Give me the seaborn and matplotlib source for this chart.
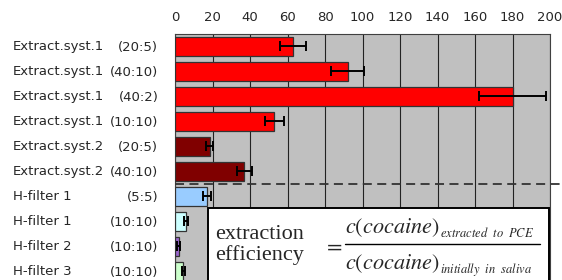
import numpy as np
import pandas as pd
import matplotlib
matplotlib.use("Agg")
import matplotlib.pyplot as plt
import matplotlib.transforms as mtransforms
from matplotlib.patches import Rectangle
from matplotlib.lines import Line2D
import seaborn as sns

# data
systems = ["Extract.syst.1", "Extract.syst.1", "Extract.syst.1", "Extract.syst.1",
           "Extract.syst.2", "Extract.syst.2",
           "H-filter 1", "H-filter 1", "H-filter 2", "H-filter 3"]
ratios = ["(20:5)", "(40:10)", "(40:2)", "(10:10)", "(20:5)", "(40:10)",
          "(5:5)", "(10:10)", "(10:10)", "(10:10)"]
efficiency = [63, 92, 180, 53, 18.5, 37, 17, 6, 2, 4.5]
errors = [7, 9, 18, 5, 2, 4, 2, 1, 0.7, 1]
colors = ["#FF0000", "#FF0000", "#FF0000", "#FF0000", "#800000", "#800000",
          "#99CCFF", "#CCFFFF", "#9966CC", "#CCFFCC"]

keys = [f"{s} {r}" for s, r in zip(systems, ratios)]
df = pd.DataFrame({"key": keys, "efficiency": efficiency})

sns.set_style("white")
plt.rcParams["font.family"] = ["DejaVu Sans"]
plt.rcParams["mathtext.fontset"] = "stix"

fig = plt.figure(figsize=(5.62, 2.8), dpi=100)
ax = fig.add_axes([175 / 562, 1 - 284 / 280, 375 / 562, 250 / 280])
ax.set_facecolor("#C0C0C0")

sns.barplot(data=df, x="efficiency", y="key", hue="key", palette=colors,
            saturation=1, legend=False, width=0.76, edgecolor="#333333",
            linewidth=0.9, ax=ax, zorder=3)
ax.errorbar(efficiency, np.arange(len(keys)), xerr=errors, fmt="none",
            ecolor="black", elinewidth=1.4, capsize=3.5, capthick=1.4, zorder=4)

ax.set_xlim(0, 200)
ax.set_ylim(len(keys) - 0.5, -0.5)
ax.set_xticks(np.arange(0, 201, 20))
ax.xaxis.tick_top()
ax.tick_params(axis="x", length=0, pad=7, labelsize=9.5)
ax.grid(axis="x", color="#222222", linewidth=0.8, zorder=0)
ax.set_axisbelow(True)
ax.set_xlabel("")
ax.set_ylabel("")

# boundary ticks (major), labels at centres (minor)
ax.set_yticks(np.arange(-0.5, len(keys), 1))
ax.set_yticklabels([])
ax.tick_params(axis="y", which="major", length=4, width=0.8, color="#404040")
ax.set_yticks(np.arange(len(keys)), minor=True)
ax.set_yticklabels(ratios, minor=True)
ax.tick_params(axis="y", which="minor", length=0, pad=12, labelsize=9.5)

trans = mtransforms.blended_transform_factory(fig.transFigure, ax.transData)
for i, s in enumerate(systems):
    ax.text(13 / 562, i, s, transform=trans, ha="left", va="center", fontsize=9.5)

for sp in ax.spines.values():
    sp.set_color("#404040")
    sp.set_linewidth(0.8)

# dashed separator between extraction systems and H-filters
sep = mtransforms.blended_transform_factory(ax.transAxes, ax.transData)
ax.plot([0, 1.05], [5.5, 5.5], transform=sep, color="#333333",
        linestyle=(0, (5, 3)), linewidth=1.3, clip_on=False, zorder=5)

# formula box
W, H = 562, 280
fig.patches.append(Rectangle((208 / W, -0.05), 341 / W, 1 - 208 / H + 0.05,
                             transform=fig.transFigure, facecolor="white",
                             edgecolor="black", linewidth=1.4, zorder=6))
fig.text(215 / W, 1 - 245 / H, "extraction\nefficiency", family="Liberation Serif",
         fontsize=16, ha="left", va="center", linespacing=1.1, zorder=7)
fig.text(333 / W, 1 - 246 / H, r"$=$", fontsize=16, ha="center", va="center", zorder=7)
fig.text(345 / W, 1 - 233 / H, r"$c(cocaine)$", fontsize=16, ha="left",
         va="baseline", zorder=7)
fig.text(440 / W, 1 - 237 / H, r"$extracted\ \ to\ \ PCE$", fontsize=9,
         ha="left", va="baseline", zorder=7)
fig.lines.append(Line2D([345 / W, 540 / W], [1 - 244 / H, 1 - 244 / H],
                        transform=fig.transFigure, color="black", linewidth=1.0,
                        zorder=7))
fig.text(345 / W, 1 - 269 / H, r"$c(cocaine)$", fontsize=16, ha="left",
         va="baseline", zorder=7)
fig.text(440 / W, 1 - 273 / H, r"$initially\ \ in\ \ saliva$", fontsize=9,
         ha="left", va="baseline", zorder=7)

fig.savefig("out.png", dpi=100)
